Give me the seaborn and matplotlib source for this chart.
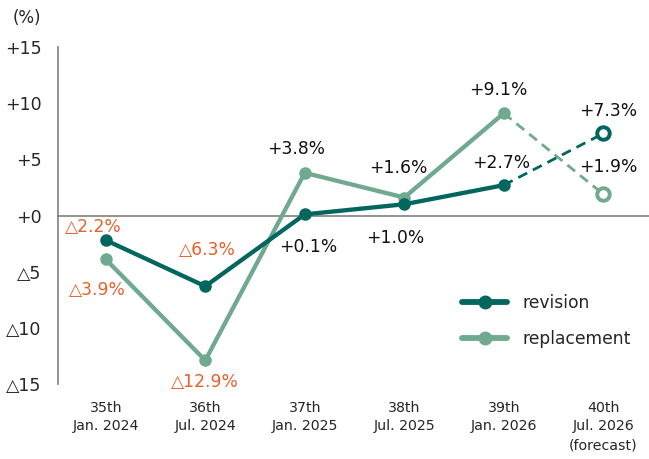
import matplotlib
matplotlib.use("Agg")
import matplotlib.pyplot as plt
import matplotlib.transforms as mtrans
from matplotlib.lines import Line2D
import seaborn as sns
import pandas as pd

sns.set_style("white")
plt.rcParams['font.family'] = ['DejaVu Sans']

# ---- data ----
categories = ["35th\nJan. 2024", "36th\nJul. 2024", "37th\nJan. 2025",
              "38th\nJul. 2025", "39th\nJan. 2026", "40th\nJul. 2026\n(forecast)"]
revision = [-2.2, -6.3, 0.1, 1.0, 2.7, 7.3]
replacement = [-3.9, -12.9, 3.8, 1.6, 9.1, 1.9]
y_ticks = [15, 10, 5, 0, -5, -10, -15]
y_tick_labels = ["+15", "+10", "+5", "+0", "△5", "△10", "△15"]

C_REV = "#00665E"
C_REP = "#6FA98F"
C_NEG = "#E8602C"

fig = plt.figure(figsize=(6.49, 4.59), dpi=100)
ax = fig.add_axes([0.0894, 0.1634, 0.9106, 0.7342])

idx = list(range(len(categories)))
n_act = 5
df = pd.DataFrame({"x": idx, "revision": revision, "replacement": replacement})
act = df.iloc[:n_act]
fc = df.iloc[n_act - 1:]

for col, c in [("replacement", C_REP), ("revision", C_REV)]:
    sns.lineplot(data=fc, x="x", y=col, ax=ax, color=c, lw=2.0, linestyle=(0, (3.6, 2.3)),
                 zorder=3)
    sns.lineplot(data=act, x="x", y=col, ax=ax, color=c, lw=3.1, marker="o",
                 markersize=9, markeredgewidth=0, zorder=4)
    ax.plot(fc["x"].iloc[-1:], fc[col].iloc[-1:], linestyle="none", marker="o",
            markersize=9, markerfacecolor="white", markeredgecolor=c,
            markeredgewidth=2.8, zorder=5)

ax.set_xlim(-0.48, 5.46)
ax.set_ylim(-15, 15)
ax.set_yticks(y_ticks)
ax.set_yticklabels(y_tick_labels, fontsize=12.5)
ax.set_xlabel("")
ax.set_ylabel("")

for s in ["top", "right"]:
    ax.spines[s].set_visible(False)
ax.spines["left"].set_color("#808080")
ax.spines["left"].set_linewidth(1.2)
ax.spines["bottom"].set_position(("data", 0))
ax.spines["bottom"].set_color("#808080")
ax.spines["bottom"].set_linewidth(1.2)
ax.tick_params(axis="y", direction="in", length=5, color="#808080", pad=12, labelsize=12.5)
ax.set_xticks([i + 0.5 for i in idx[:-1]])
ax.set_xticklabels([])
ax.tick_params(axis="x", direction="in", length=4, color="#808080")

trans = mtrans.blended_transform_factory(ax.transData, ax.transAxes)
for i, lab in enumerate(categories):
    ax.text(i, -0.05, lab, transform=trans, ha="center", va="top",
            fontsize=10.2, linespacing=1.42)

fig.text(27 / 649, 1 - 18 / 459, "(%)", ha="center", va="center", fontsize=12)

def fmt(v):
    return ("+" if v >= 0 else "△") + f"{abs(v):.1f}%"

# label offsets in pixels (dx, dy)
rev_off = [(-12, 13), (2, 36), (3, -33), (-9, -34), (-3, 22), (5, 22)]
rep_off = [(-8, -31), (0, -22), (-9, 24), (-6, 30), (-5, 23), (5, 27)]
for vals, offs in [(revision, rev_off), (replacement, rep_off)]:
    for i, (v, (dx, dy)) in enumerate(zip(vals, offs)):
        ax.annotate(fmt(v), (i, v), xytext=(dx, dy), textcoords="offset pixels",
                    ha="center", va="center", fontsize=12.3,
                    color=C_NEG if v < 0 else "#111111", zorder=6)

handles = [Line2D([], [], color=C_REV, lw=4.2, marker="o", markersize=9,
                  solid_capstyle="round"),
           Line2D([], [], color=C_REP, lw=4.2, marker="o", markersize=9,
                  solid_capstyle="round")]
ax.legend(handles, ["revision", "replacement"], loc="center left",
          bbox_to_anchor=(447 / 649, 1 - 321 / 459), bbox_transform=fig.transFigure,
          frameon=False, fontsize=12.3,
          handlelength=2.6, handletextpad=0.9, labelspacing=1.05)

fig.savefig("out.png", dpi=100)
